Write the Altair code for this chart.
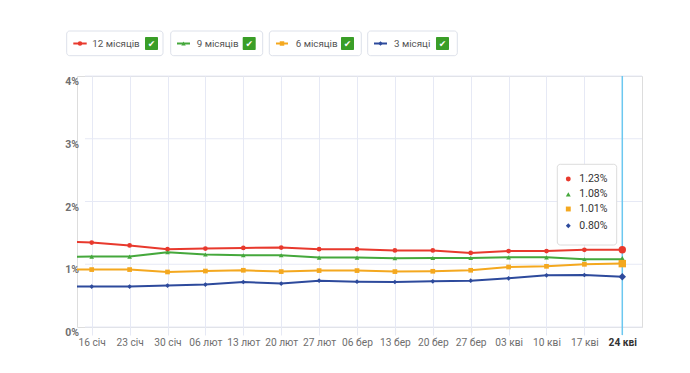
import altair as alt
import pandas as pd

# ---------------- data ----------------
dates = ["09 січ", "16 січ", "23 січ", "30 січ", "06 лют", "13 лют", "20 лют", "27 лют",
         "06 бер", "13 бер", "20 бер", "27 бер", "03 кві", "10 кві", "17 кві", "24 кві"]
series = ["12 місяців", "9 місяців", "6 місяців", "3 місяці"]
colors = ["#e8392d", "#45a83c", "#f4a81f", "#2d4a9c"]
shapes = ["circle", "triangle-up", "square", "diamond"]

v12 = [1.37, 1.345, 1.30, 1.24, 1.25, 1.26, 1.265, 1.24, 1.24, 1.22, 1.22, 1.18, 1.21, 1.21, 1.23, 1.23]
v9 = [1.12, 1.122, 1.122, 1.19, 1.154, 1.143, 1.143, 1.106, 1.106, 1.095, 1.10, 1.10, 1.11, 1.11, 1.079, 1.08]
v6 = [0.915, 0.915, 0.915, 0.877, 0.892, 0.904, 0.883, 0.899, 0.899, 0.883, 0.888, 0.904, 0.956, 0.967, 0.999, 1.01]
v3 = [0.645, 0.644, 0.644, 0.66, 0.676, 0.717, 0.692, 0.739, 0.723, 0.717, 0.728, 0.739, 0.776, 0.824, 0.829, 0.80]

y_ticks = [0, 1, 2, 3, 4]

# ---------------- build tables ----------------
rows = []
for s, vals in zip(series, [v12, v9, v6, v3]):
    for i, (d, v) in enumerate(zip(dates, vals)):
        rows.append({"idx": i - 1, "date": d, "series": s, "value": v})
df = pd.DataFrame(rows)
last_idx = len(dates) - 2
df_pts = df[(df.idx >= 0) & (df.idx < last_idx)]
df_last = df[df.idx == last_idx]

W, H = 565, 251
xscale = alt.Scale(domain=[-0.388, 14.52], nice=False, zero=False)
yscale = alt.Scale(domain=[0, 4], nice=False)
cscale = alt.Scale(domain=series, range=colors)
sscale = alt.Scale(domain=series, range=shapes)

label_list = "[" + ",".join("'%s'" % d for d in dates[1:]) + "]"
FONT = "Roboto"

# grid (horizontal)
grid_df = pd.DataFrame({"v": y_ticks, "lab": ["%d%%" % t for t in y_ticks]})
hgrid = alt.Chart(grid_df).mark_rule(color="#e6e9f5", strokeWidth=1).encode(
    y=alt.Y("v:Q", scale=yscale, axis=None), x=alt.value(8), x2=alt.value(W))
ylabels = alt.Chart(grid_df).mark_text(align="right", baseline="middle", dy=6, fontSize=10.5,
                                       fontWeight="bold", color="#707070", font=FONT).encode(
    y=alt.Y("v:Q", scale=yscale, axis=None), x=alt.value(2), text="lab:N")

xaxis = alt.Axis(values=list(range(15)), labelExpr=label_list + "[datum.value]", title=None,
                 grid=True, gridColor="#e6e9f5", tickColor="#e6e9f5", tickSize=8, domain=False,
                 labelFontSize=10.2, labelPadding=2, labelFont=FONT,
                 labelColor=alt.expr("datum.value == 14 ? '#333333' : '#6e6e6e'"),
                 labelFontWeight=alt.expr("datum.value == 14 ? 'bold' : 'normal'"))

lines = alt.Chart(df).mark_line(clip=True, strokeWidth=2).encode(
    x=alt.X("idx:Q", scale=xscale, axis=xaxis),
    y=alt.Y("value:Q", scale=yscale, axis=None),
    color=alt.Color("series:N", scale=cscale, legend=None),
    detail="series:N")

cross = alt.Chart(pd.DataFrame({"idx": [last_idx]})).mark_rule(color="#6cc8f0", strokeWidth=1.5).encode(
    x=alt.X("idx:Q", scale=xscale), y=alt.value(0), y2=alt.value(H + 8))

pts = alt.Chart(df_pts).mark_point(filled=True, size=22, opacity=1).encode(
    x=alt.X("idx:Q", scale=xscale), y=alt.Y("value:Q", scale=yscale, axis=None),
    color=alt.Color("series:N", scale=cscale, legend=None),
    shape=alt.Shape("series:N", scale=sscale, legend=None))
pts_last = alt.Chart(df_last).mark_point(filled=True, size=55, opacity=1).encode(
    x=alt.X("idx:Q", scale=xscale), y=alt.Y("value:Q", scale=yscale, axis=None),
    color=alt.Color("series:N", scale=cscale, legend=None),
    shape=alt.Shape("series:N", scale=sscale, legend=None))

# ---------------- tooltip ----------------
tip_rows = [103, 118.3, 133, 149.7]
tip_df = pd.DataFrame({
    "series": series,
    "txt": ["%.2f%%" % v for v in df_last.value],
    "ty": tip_rows,
    "mx": [491.3] * 4,
    "tx": [502.3] * 4,
})
tip_box = alt.Chart(pd.DataFrame({"x0": [480.3], "x1": [539.7], "y0": [88.3], "y1": [169.0]})).mark_rect(
    fill="white", stroke="#dcdcdc", strokeWidth=1, cornerRadius=3).encode(
    x=alt.X("x0:Q", scale=None), x2="x1:Q", y=alt.Y("y0:Q", scale=None), y2="y1:Q")
tip_mk = alt.Chart(tip_df).mark_point(filled=True, size=24, opacity=1).encode(
    x=alt.X("mx:Q", scale=None), y=alt.Y("ty:Q", scale=None),
    color=alt.Color("series:N", scale=cscale, legend=None),
    shape=alt.Shape("series:N", scale=sscale, legend=None))
tip_tx = alt.Chart(tip_df).mark_text(align="left", baseline="middle", fontSize=10.5, color="#333333", font=FONT).encode(
    x=alt.X("tx:Q", scale=None), y=alt.Y("ty:Q", scale=None), text="txt:N")

# ---------------- custom legend ----------------
box_x0 = [-10.3, 93.7, 192.3, 290.7]
box_x1 = [86.0, 185.7, 284.3, 380.3]
sym_x0 = [-3.7, 100, 199, 297]
sym_x1 = [9.7, 113, 211, 310]
text_x = [15.3, 119.7, 218.7, 317]
chk_x0 = [68, 165.7, 264, 359]
leg = pd.DataFrame({
    "series": series, "bx0": box_x0, "bx1": box_x1, "sx0": sym_x0, "sx1": sym_x1,
    "mx": [(a + b) / 2 for a, b in zip(sym_x0, sym_x1)], "tx": text_x,
    "cx0": chk_x0, "cx1": [c + 13 for c in chk_x0], "cxm": [c + 6.5 for c in chk_x0],
    "by0": [-45] * 4, "by1": [-20.3] * 4, "sy": [-32.5] * 4, "cy0": [-39] * 4, "cy1": [-26] * 4,
})
leg_box = alt.Chart(leg).mark_rect(fill="white", stroke="#dde1ea", strokeWidth=1, cornerRadius=3).encode(
    x=alt.X("bx0:Q", scale=None), x2="bx1:Q", y=alt.Y("by0:Q", scale=None), y2="by1:Q")
leg_line = alt.Chart(leg).mark_rule(strokeWidth=2).encode(
    x=alt.X("sx0:Q", scale=None), x2="sx1:Q", y=alt.Y("sy:Q", scale=None),
    color=alt.Color("series:N", scale=cscale, legend=None))
leg_mk = alt.Chart(leg).mark_point(filled=True, size=20, opacity=1).encode(
    x=alt.X("mx:Q", scale=None), y=alt.Y("sy:Q", scale=None),
    color=alt.Color("series:N", scale=cscale, legend=None),
    shape=alt.Shape("series:N", scale=sscale, legend=None))
leg_tx = alt.Chart(leg).mark_text(align="left", baseline="middle", fontSize=9.8, color="#555555", font=FONT).encode(
    x=alt.X("tx:Q", scale=None), y=alt.Y("sy:Q", scale=None), text="series:N")
leg_chk = alt.Chart(leg).mark_rect(fill="#3a9e27", cornerRadius=1).encode(
    x=alt.X("cx0:Q", scale=None), x2="cx1:Q", y=alt.Y("cy0:Q", scale=None), y2="cy1:Q")
leg_chk_t = alt.Chart(leg).mark_text(text="✔", align="center", baseline="middle", fontSize=9,
                                     color="white", font="DejaVu Sans").encode(
    x=alt.X("cxm:Q", scale=None), y=alt.Y("sy:Q", scale=None))

chart = alt.layer(
    hgrid, ylabels, lines, cross, pts, pts_last,
    tip_box, tip_mk, tip_tx,
    leg_box, leg_line, leg_mk, leg_tx, leg_chk, leg_chk_t,
).properties(
    width=W, height=H,
    autosize=alt.AutoSizeParams(type="none"),
    padding={"left": 69, "top": 68, "right": 30, "bottom": 30},
).configure_view(stroke=None).configure(font=FONT)

chart.save("out.html", embed_options={"renderer": "svg", "actions": False})
